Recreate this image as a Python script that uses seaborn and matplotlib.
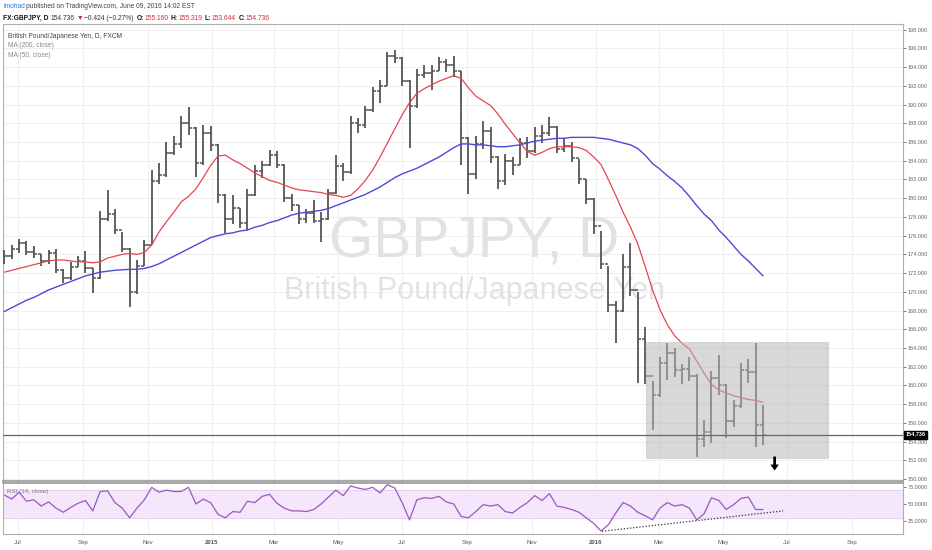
import numpy as np
import pandas as pd
import matplotlib
matplotlib.use("Agg")
import matplotlib.pyplot as plt
import matplotlib.dates as mdates
import matplotlib.transforms as mtransforms
from matplotlib.patches import Rectangle, FancyArrow
import seaborn as sns

# ---------------- data (weekly bars) ----------------
week_centers = pd.date_range("2014-06-18", periods=104, freq="7D")
first_open = 173.5
close = [173.8, 174.6, 175.2, 174.3, 174.0, 173.3, 174.1, 172.3, 171.5, 172.7,
         173.3, 172.5, 171.5, 177.8, 178.3, 176.6, 174.6, 170.0, 172.8, 175.0,
         181.8, 182.5, 184.8, 185.8, 188.0, 187.5, 183.8, 187.0, 185.7, 180.3,
         177.8, 179.0, 177.3, 180.3, 182.9, 183.5, 184.6, 183.6, 180.0, 179.3,
         177.8, 178.4, 177.6, 177.8, 180.6, 183.4, 182.8, 188.0, 187.8, 189.4,
         191.4, 192.0, 195.2, 195.0, 192.5, 189.8, 193.2, 193.4, 193.6, 194.5,
         194.2, 193.6, 186.4, 182.6, 185.8, 187.2, 184.4, 181.8, 184.0, 183.6,
         185.9, 185.0, 186.6, 187.0, 187.6, 185.3, 185.6, 184.3, 182.0, 179.9,
         177.0, 173.0, 168.6, 168.0, 172.6, 170.2, 165.0, 161.0, 159.0, 162.4,
         163.5, 161.6, 161.8, 161.0, 154.3, 155.0, 160.8, 160.0, 156.2, 157.8,
         161.6, 161.4, 155.8, 154.736]
high = [174.5, 175.0, 175.6, 175.4, 174.9, 174.0, 174.5, 174.6, 172.4, 173.2,
        173.8, 174.4, 172.5, 178.6, 180.9, 178.8, 176.4, 174.7, 173.4, 175.5,
        183.0, 183.8, 186.0, 186.6, 188.8, 189.7, 187.6, 187.8, 187.7, 185.8,
        180.4, 180.3, 179.0, 181.0, 183.6, 184.0, 185.2, 185.0, 183.7, 180.4,
        179.3, 178.9, 179.8, 178.5, 181.0, 184.6, 183.8, 188.8, 188.6, 189.8,
        191.9, 192.6, 195.6, 195.8, 195.1, 192.6, 193.8, 194.2, 194.2, 195.1,
        194.9, 195.2, 193.6, 186.5, 186.6, 188.2, 187.6, 184.5, 184.7, 184.4,
        186.4, 186.5, 187.6, 187.8, 188.7, 187.7, 186.3, 186.0, 184.2, 182.1,
        180.0, 176.5, 172.8, 169.0, 174.0, 175.2, 170.0, 166.2, 160.5, 163.0,
        164.5, 164.0, 162.3, 163.0, 161.2, 156.3, 161.5, 163.2, 160.2, 158.4,
        162.4, 162.8, 164.5, 157.9]
low = [173.0, 173.5, 174.2, 173.9, 173.6, 172.8, 173.0, 172.0, 170.9, 171.3,
       172.6, 172.0, 169.9, 171.4, 177.6, 176.2, 174.3, 168.4, 169.8, 172.8,
       175.0, 181.5, 182.3, 184.6, 185.4, 186.8, 182.3, 183.6, 185.0, 179.5,
       176.3, 177.2, 176.8, 176.6, 180.2, 182.2, 183.4, 183.2, 179.6, 178.6,
       177.2, 177.4, 177.3, 175.3, 177.7, 180.5, 181.8, 182.6, 187.0, 187.5,
       189.2, 190.2, 192.0, 194.4, 192.0, 185.4, 189.6, 192.8, 191.6, 193.6,
       193.5, 193.0, 183.5, 180.5, 182.0, 185.3, 183.8, 181.0, 181.4, 182.5,
       183.5, 184.3, 184.8, 185.9, 186.6, 184.8, 184.9, 183.9, 181.5, 179.4,
       176.2, 172.4, 167.8, 164.5, 167.8, 169.5, 160.3, 160.2, 155.2, 158.8,
       160.6, 160.9, 160.2, 160.5, 152.4, 153.4, 153.8, 159.0, 154.4, 155.6,
       157.6, 160.3, 153.4, 153.6]
ma50 = [172.1, 172.3, 172.5, 172.7, 172.9, 173.1, 173.3, 173.4, 173.4, 173.3,
        173.2, 173.2, 173.1, 173.2, 173.6, 173.8, 174.0, 174.1, 174.0, 174.2,
        175.0, 176.4, 177.5, 178.5, 179.6, 180.2, 181.0, 182.2, 183.5, 184.5,
        184.6, 184.1, 183.7, 183.2, 182.7, 182.3, 181.9, 181.7, 181.4, 181.1,
        180.9, 180.8, 180.7, 180.6, 180.4, 180.3, 180.1, 180.3, 181.0, 181.9,
        183.0, 184.4, 185.9, 187.4, 188.9, 190.2, 191.2, 191.7, 192.1, 192.5,
        192.8, 193.1, 192.8, 191.8, 190.9, 190.4, 189.9, 189.0, 187.9, 186.9,
        185.9, 185.0, 184.6, 184.9, 185.3, 185.5, 185.5, 185.5, 185.4, 185.1,
        184.4, 183.6, 182.0, 180.3, 178.5, 176.9, 175.1, 172.7, 170.2, 168.1,
        166.5, 165.3, 164.5, 163.9, 162.6, 161.3, 160.1, 159.5, 159.2, 158.9,
        158.7, 158.5, 158.4, 158.2]
ma200 = [167.9, 168.3, 168.7, 169.1, 169.4, 169.8, 170.2, 170.5, 170.8, 171.1,
         171.4, 171.7, 171.9, 172.1, 172.2, 172.3, 172.35, 172.4, 172.4, 172.5,
         172.7, 173.0, 173.4, 173.8, 174.2, 174.6, 175.0, 175.4, 175.8, 176.0,
         176.2, 176.3, 176.5, 176.6, 176.9, 177.1, 177.4, 177.6, 177.9, 178.2,
         178.4, 178.5, 178.6, 178.7, 178.9, 179.2, 179.5, 179.8, 180.1, 180.4,
         180.8, 181.2, 181.7, 182.2, 182.6, 182.9, 183.2, 183.6, 184.0, 184.4,
         184.9, 185.4, 185.8, 185.8, 185.7, 185.7, 185.6, 185.5, 185.5, 185.6,
         185.7, 185.9, 186.1, 186.2, 186.3, 186.4, 186.4, 186.5, 186.5, 186.5,
         186.5, 186.4, 186.3, 186.1, 185.9, 185.7, 185.3, 184.6, 183.7, 183.1,
         182.4, 181.8, 181.1, 180.2, 179.2, 178.3, 177.6, 176.6, 175.8, 174.9,
         174.0, 173.3, 172.5, 171.7]
rsi = [63, 57, 67, 54, 56, 47, 53, 44, 38, 45,
       51, 55, 40, 68, 69, 52, 44, 30, 44, 56,
       74, 67, 70, 68, 68, 74, 50, 57, 52, 35,
       30, 39, 38, 54, 52, 61, 64, 51, 44, 40,
       40, 39, 42, 50, 60, 70, 62, 76, 73, 71,
       74, 66, 78, 73, 52, 27, 56, 59, 58, 61,
       53, 50, 32, 30, 39, 49, 47, 49, 39, 37,
       45, 52, 62, 55, 65, 47, 45, 42, 38, 30,
       22, 11, 20, 37, 52, 47, 38, 33, 27, 44,
       52, 47, 49, 44, 27, 36, 59, 55, 42, 49,
       58, 60, 42, 42]
trend_dates = pd.to_datetime(["2016-01-07", "2016-06-27"])
trend_vals = [10.5, 40.0]
box_dates = pd.to_datetime(["2016-02-18", "2016-08-09"])
box_vals = [152.2, 164.6]
arrow_date = pd.Timestamp("2016-06-19")
arrow_vals = [152.4, 150.9]
last_price = 154.736
tick_dates = pd.to_datetime(["2014-07-01", "2014-09-01", "2014-11-01", "2015-01-01",
                             "2015-03-01", "2015-05-01", "2015-07-01", "2015-09-01",
                             "2015-11-01", "2016-01-01", "2016-03-01", "2016-05-01",
                             "2016-07-01", "2016-09-01"])
tick_labels = ["Jul", "Sep", "Nov", "2015", "Mar", "May", "Jul", "Sep", "Nov",
               "2016", "Mar", "May", "Jul", "Sep"]
price_ticks = list(range(150, 199, 2))
rsi_ticks = [25, 50, 75]

# ---------------- style ----------------
sns.set_theme(style="white")
plt.rcParams["font.family"] = ["Liberation Sans", "DejaVu Sans"]
plt.rcParams["axes.linewidth"] = 0.8

W, H = 932, 550
fig = plt.figure(figsize=(W / 100, H / 100), dpi=100)
fig.patch.set_facecolor("white")


def rect(l, t, r, b):
    return [l / W, 1 - b / H, (r - l) / W, (b - t) / H]


ax = fig.add_axes(rect(3, 24, 903, 481))
axr = fig.add_axes(rect(3, 483, 903, 534), sharex=ax)

xlim = (mdates.date2num(pd.Timestamp("2014-06-16 16:00")),
        mdates.date2num(pd.Timestamp("2016-10-19")))

bar_color = "#555555"
red = "#e2474f"
blue = "#4b4bd8"
grid_c = "#efefef"

# grid
for d in tick_dates:
    ax.axvline(d, color=grid_c, lw=0.8, zorder=0)
    axr.axvline(d, color=grid_c, lw=0.8, zorder=0)
for v in price_ticks:
    ax.axhline(v, color=grid_c, lw=0.8, zorder=0)

# watermark
ax.text(0.524, 0.522, "GBPJPY, D", transform=ax.transAxes, fontsize=41,
        color="#e2e2e2", ha="center", va="center", zorder=1)
ax.text(0.524, 0.416, "British Pound/Japanese Yen", transform=ax.transAxes,
        fontsize=22, color="#e2e2e2", ha="center", va="center", zorder=1)

# OHLC bars
xs = mdates.date2num(week_centers)
opens = [first_open] + close[:-1]
tick_w = 3.2
ax.vlines(xs, low, high, color=bar_color, lw=1.3, zorder=3)
ax.hlines(opens, xs - tick_w, xs, color=bar_color, lw=1.1, zorder=3)
ax.hlines(close, xs, xs + tick_w, color=bar_color, lw=1.1, zorder=3)

# moving averages
sns.lineplot(x=week_centers, y=ma200, ax=ax, color=blue, lw=1.0, zorder=4)
sns.lineplot(x=week_centers, y=ma50, ax=ax, color=red, lw=0.9, zorder=4)

# box
bx0, bx1 = mdates.date2num(box_dates)
ax.add_patch(Rectangle((bx0, box_vals[0]), bx1 - bx0, box_vals[1] - box_vals[0],
                       facecolor="#b8b8b8", alpha=0.55, edgecolor="#c4c4c4",
                       lw=0.8, zorder=5))

# last price line
ax.axhline(last_price, color="#666666", lw=0.9, zorder=6)

# arrow (shaft + head)
ad = mdates.date2num(arrow_date)
ax.add_patch(FancyArrow(ad, arrow_vals[0], 0, arrow_vals[1] - arrow_vals[0],
                        width=2.6, head_width=8.0, head_length=0.65,
                        length_includes_head=True, color="black", lw=0, zorder=7))

ax.set_xlim(*xlim)
ax.set_ylim(149.79, 198.61)
ax.yaxis.tick_right()
ax.set_yticks(price_ticks)
ax.set_yticklabels([f"{v:.3f}" for v in price_ticks])
ax.tick_params(axis="y", labelsize=4, colors="#666666", length=2, width=0.6, pad=1.5)
ax.tick_params(axis="x", bottom=False, labelbottom=False)
for s in ax.spines.values():
    s.set_color("#b0b0b0")

trans = mtransforms.blended_transform_factory(ax.transAxes, ax.transData)
ax.text(1.0025, last_price, f"{last_price:.3f}", transform=trans, fontsize=4,
        color="white", ha="left", va="center", fontweight="bold",
        bbox=dict(facecolor="black", edgecolor="black", boxstyle="square,pad=0.25"),
        zorder=10, clip_on=False)

# RSI panel
axr.axhspan(30, 70, color="#f4e6fb", zorder=0)
for v in (30, 70):
    axr.axhline(v, color="#e2cdec", lw=0.6, zorder=1)
sns.lineplot(x=week_centers, y=rsi, ax=axr, color="#9d58be", lw=0.9, zorder=3)
sns.lineplot(x=trend_dates, y=trend_vals, ax=axr, color="#333333", lw=0.9,
             linestyle=(0, (1, 1.5)), zorder=4)
axr.set_ylim(6.6, 80.3)
axr.yaxis.tick_right()
axr.set_yticks(rsi_ticks)
axr.set_yticklabels([f"{v:.4f}" for v in rsi_ticks])
axr.tick_params(axis="y", labelsize=4, colors="#666666", length=2, width=0.6, pad=1.5)
axr.set_xticks(tick_dates)
axr.set_xticklabels(tick_labels)
axr.tick_params(axis="x", labelsize=4.3, colors="#555555", length=0, pad=4)
for lab in axr.get_xticklabels():
    if lab.get_text() in ("2015", "2016"):
        lab.set_fontweight("bold")
axr.set_xlim(*xlim)
axr.set_xlabel("")
axr.set_ylabel("")
ax.set_xlabel("")
ax.set_ylabel("")
for s in axr.spines.values():
    s.set_color("#b0b0b0")
axr.spines["top"].set_color("#999999")
axr.spines["top"].set_linewidth(1.2)
ax.spines["bottom"].set_color("#999999")
ax.spines["bottom"].set_linewidth(1.2)

# ---------------- texts ----------------
fig.canvas.draw()
renderer = fig.canvas.get_renderer()


def seq_text(x, y, pieces, size):
    for txt, color, weight, gap in pieces:
        t = fig.text(x / W, 1 - y / H, txt, color=color, fontsize=size,
                     fontweight=weight, ha="left", va="center")
        bb = t.get_window_extent(renderer)
        x += bb.width + gap


dark = "#333333"
red_t = "#cc2a36"
seq_text(3, 7, [("imohad", "#2a7fd4", "normal", 1.5),
                ("published on TradingView.com, June 09, 2016 14:02 EST", "#444444", "normal", 0)], 4.8)
seq_text(3, 18, [("FX:GBPJPY, D", "#111111", "bold", 2.5),
                 ("154.736", dark, "normal", 1.5),
                 ("\u25bc", red_t, "normal", 1.5),
                 ("\u22120.424 (\u22120.27%)", dark, "normal", 2.5),
                 ("O:", "#111111", "bold", 0.5), ("155.160", red_t, "normal", 2.5),
                 ("H:", "#111111", "bold", 0.5), ("155.319", red_t, "normal", 2.5),
                 ("L:", "#111111", "bold", 0.5), ("153.644", red_t, "normal", 2.5),
                 ("C:", "#111111", "bold", 0.5), ("154.736", red_t, "normal", 0)], 4.8)

fig.text(8 / W, 1 - 36 / H, "British Pound/Japanese Yen, D, FXCM", fontsize=4.8,
         color="#444444", ha="left", va="center")
fig.text(8 / W, 1 - 45.5 / H, "MA (200, close)", fontsize=4.8, color="#8a8a8a",
         ha="left", va="center")
fig.text(8 / W, 1 - 55.5 / H, "MA (50, close)", fontsize=4.8, color="#8a8a8a",
         ha="left", va="center")
fig.text(7 / W, 1 - 491.5 / H, "RSI (14, close)", fontsize=4.5, color="#777777",
         ha="left", va="center")

fig.savefig("out.png", dpi=100, facecolor="white")
